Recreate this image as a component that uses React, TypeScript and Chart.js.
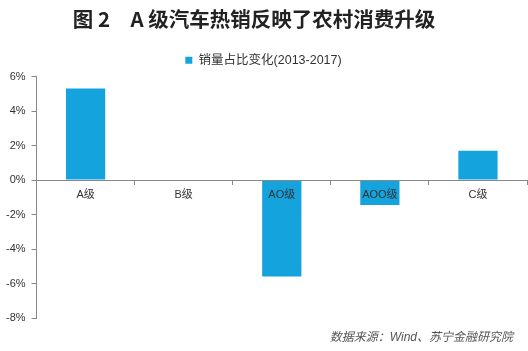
import React, { useEffect, useRef } from "react";
import { Chart, registerables } from "chart.js";

Chart.register(...registerables);

const categories = ["A级", "B级", "AO级", "AOO级", "C级"];
const shareChange = [5.3, 0, -5.6, -1.45, 1.7];
const seriesName = "销量占比变化(2013-2017)";
const titleText = "图 2　A 级汽车热销反映了农村消费升级";
const sourceText = "数据来源：Wind、苏宁金融研究院";

const FONT = "'Liberation Sans', 'Noto Sans CJK SC', sans-serif";

const textPlugin = {
  id: "extraText",
  afterDraw(chart: any) {
    const ctx = chart.ctx;
    ctx.save();
    ctx.fillStyle = "#222";
    ctx.font = "bold 20.5px 'Noto Sans CJK SC', sans-serif";
    ctx.textAlign = "center";
    ctx.textBaseline = "middle";
    ctx.fillText(titleText, 254, 19);
    ctx.fillStyle = "#555";
    ctx.font = "italic 12px " + FONT;
    ctx.textAlign = "right";
    ctx.fillText(sourceText, 513, 338);
    ctx.restore();
  },
};

export default function App() {
  const ref = useRef<HTMLCanvasElement>(null);
  useEffect(() => {
    document.body.style.margin = "0";
    const chart = new Chart(ref.current!, {
      type: "bar",
      data: {
        labels: categories,
        datasets: [
          {
            label: seriesName,
            data: shareChange,
            backgroundColor: "#15A3DE",
            borderWidth: 0,
            categoryPercentage: 1,
            barPercentage: 0.4,
          },
        ],
      },
      plugins: [textPlugin],
      options: {
        animation: false,
        responsive: false,
        layout: { padding: { left: 0, right: 1, top: 47, bottom: 33 } },
        plugins: {
          title: { display: false },
          legend: {
            display: true,
            position: "top",
            labels: {
              boxWidth: 7,
              boxHeight: 7,
              font: { family: FONT, size: 12.5 },
              color: "#333",
              padding: 7,
            },
          },
          tooltip: { enabled: false },
        },
        scales: {
          x: {
            position: { y: 0 } as any,
            grid: {
              display: true,
              drawOnChartArea: false,
              drawTicks: true,
              tickLength: 4,
              color: "#888",
              offset: true,
              z: 1,
            },
            border: { display: true, color: "#888", width: 1, z: 1 },
            ticks: {
              font: { family: FONT, size: 11 },
              color: "#333",
              padding: 4,
              maxRotation: 0,
              z: 1,
            },
          },
          y: {
            min: -8,
            max: 6,
            grid: {
              display: true,
              drawOnChartArea: false,
              drawTicks: true,
              tickLength: 5,
              color: "#888",
            },
            border: { display: true, color: "#888", width: 1 },
            ticks: {
              stepSize: 2,
              font: { family: FONT, size: 11 },
              color: "#333",
              padding: 6,
              callback: (v: any) => `${v}%`,
            },
          },
        },
      },
    });
    return () => chart.destroy();
  }, []);
  return (
    <div style={{ width: 528, height: 351, background: "#fff" }}>
      <canvas ref={ref} width={528} height={351} />
    </div>
  );
}
